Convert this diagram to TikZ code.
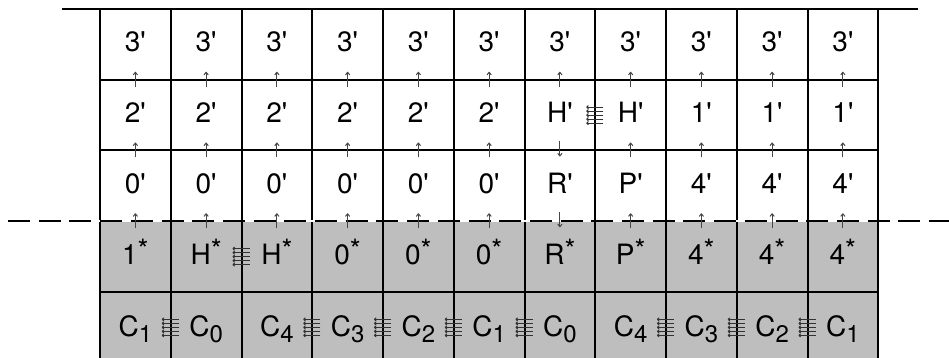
\documentclass[tikz,border=0pt]{standalone}
\usepackage{fontspec}
\newfontfamily\hv{TeX Gyre Heros}
\usetikzlibrary{arrows.meta}
\definecolor{cellgray}{RGB}{190,190,190}
\definecolor{arrgray}{RGB}{70,70,70}
\definecolor{bundgray}{RGB}{50,50,50}
\newcommand\mystar[1]{#1\raisebox{5pt}{\fontsize{28}{28}\selectfont *}}
\newcommand\mysub[2]{#1\raisebox{-6pt}{\fontsize{24}{24}\selectfont #2}}
\begin{document}
\begin{tikzpicture}[x=1pt,y=-1pt,
  cell/.style={draw,line width=2pt,minimum width=70.75pt,minimum height=70.75pt,
    inner sep=0pt,outer sep=0pt,font=\hv\fontsize{28}{30}\selectfont,
    text height=20pt,text depth=5pt},
  shaded/.style={cell,fill=cellgray},
  lowcell/.style={shaded,text height=24pt,text depth=5pt},
  varr/.style={draw=arrgray,line width=1pt,-{To[length=3.5pt,width=5pt]}},
  bund/.style={draw=bundgray,line width=1.1pt,-{To[length=2.5pt,width=4pt]}},
  topline/.style={line width=1.5pt},
  cutline/.style={line width=2pt,dash pattern=on 22pt off 8.7pt}]
\useasboundingbox (0,0) rectangle (949,358);
\begin{scope}
\clip (0,0) rectangle (949,358);
% row 1
\foreach \t [count=\c] in {3',3',3',3',3',3',3',3',3',3',3'}
  \node[cell] (n-1-\c) at ({100+70.75*(\c-0.5)},44.375) {\t};
% row 2
\foreach \t [count=\c] in {2',2',2',2',2',2',H',H',1',1',1'}
  \node[cell] (n-2-\c) at ({100+70.75*(\c-0.5)},115.125) {\t};
% row 3
\foreach \t [count=\c] in {0',0',0',0',0',0',R',P',4',4',4'}
  \node[cell] (n-3-\c) at ({100+70.75*(\c-0.5)},185.875) {\t};
% row 4
\foreach \t [count=\c] in {\mystar{1},\mystar{H},\mystar{H},\mystar{0},\mystar{0},\mystar{0},\mystar{R},\mystar{P},\mystar{4},\mystar{4},\mystar{4}}
  \node[shaded] (n-4-\c) at ({100+70.75*(\c-0.5)},256.625) {\t};
% row 5
\foreach \t [count=\c] in {\mysub{C}{1},\mysub{C}{0},\mysub{C}{4},\mysub{C}{3},\mysub{C}{2},\mysub{C}{1},\mysub{C}{0},\mysub{C}{4},\mysub{C}{3},\mysub{C}{2},\mysub{C}{1}}
  \node[lowcell] (n-5-\c) at ({100+70.75*(\c-0.5)},327.375) {\t};
% top line
\draw[topline] ([xshift=-38pt]n-1-1.north west) -- ([xshift=40pt]n-1-11.north east);
% dashed cut line
\coordinate (cl) at (8,221.25);
\coordinate (cr) at (949,221.25);
\draw[line width=2pt,white] (cl) -- (cr);
\draw[cutline] (cl) -- (cr);
% vertical arrows
\foreach \c in {1,...,11}
  \draw[varr] ([yshift=-7pt]n-2-\c.north) -- ([yshift=8pt]n-1-\c.south);
\foreach \c in {1,2,3,4,5,6,8,9,10,11}{
  \draw[varr] ([yshift=-7pt]n-3-\c.north) -- ([yshift=8pt]n-2-\c.south);
  \draw[varr] ([yshift=-7pt]n-4-\c.north) -- ([yshift=8pt]n-3-\c.south);
}
\draw[varr] ([yshift=9pt]n-2-7.south) -- ([yshift=-6pt]n-3-7.north);
\draw[varr] ([yshift=9pt]n-3-7.south) -- ([yshift=-6pt]n-4-7.north);
% bundles
\foreach \k in {-8,-4,0,4,8}{
  \draw[bund] ([xshift=8pt,yshift=\k pt]n-2-8.west) -- ([xshift=-9pt,yshift=\k pt]n-2-7.east);
  \draw[bund] ([xshift=8pt,yshift=\k pt]n-4-3.west) -- ([xshift=-9pt,yshift=\k pt]n-4-2.east);
  \foreach \a/\b in {1/2,3/4,4/5,5/6,6/7,8/9,9/10,10/11}
    \draw[bund] ([xshift=8pt,yshift=\k pt]n-5-\b.west) -- ([xshift=-9pt,yshift=\k pt]n-5-\a.east);
}
\end{scope}
\end{tikzpicture}
\end{document}
